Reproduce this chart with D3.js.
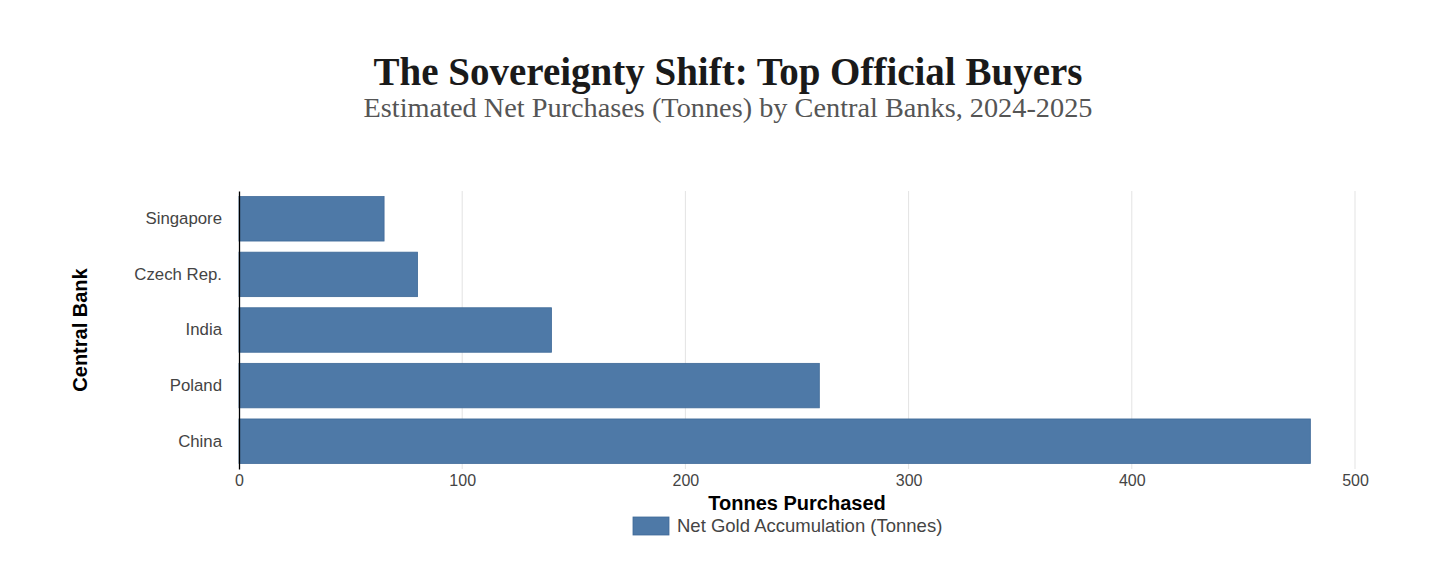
<!DOCTYPE html>
<html>
<head>
<meta charset="utf-8">
<script src="https://cdn.jsdelivr.net/npm/d3@7"></script>
<style>
  body { margin: 0; background: #fff; }
  svg { display: block; }
</style>
</head>
<body>
<svg id="chart" width="1456" height="569"></svg>
<script>
// data
var banks = ['Singapore', 'Czech Rep.', 'India', 'Poland', 'China'];
var tonnes = [65, 80, 140, 260, 480];
var xTicks = [0, 100, 200, 300, 400, 500];

var svg = d3.select('#chart');
var margin = { left: 239, right: 101, top: 191, bottom: 100 };
var W = 1456, H = 569;

var x = d3.scaleLinear().domain([0, 500]).range([margin.left, W - margin.right]);
var y = d3.scaleBand().domain(banks).range([margin.top, H - margin.bottom]).paddingInner(0.2).paddingOuter(0.1);

// title
svg.append('text').attr('x', 728).attr('y', 85).attr('text-anchor', 'middle')
   .style('font-family', 'Liberation Serif, serif').style('font-weight', 'bold')
   .style('font-size', '39px').style('fill', '#1a1a1a')
   .text('The Sovereignty Shift: Top Official Buyers');
svg.append('text').attr('x', 728).attr('y', 117).attr('text-anchor', 'middle')
   .style('font-family', 'Liberation Serif, serif')
   .style('font-size', '28.3px').style('fill', '#555')
   .text('Estimated Net Purchases (Tonnes) by Central Banks, 2024-2025');

// grid
svg.append('g').selectAll('line').data(xTicks.slice(1)).enter().append('line')
   .attr('x1', function(d) { return x(d); }).attr('x2', function(d) { return x(d); })
   .attr('y1', margin.top).attr('y2', H - margin.bottom)
   .style('stroke', '#e3e3e3').style('stroke-width', 1);

// bars
svg.append('g').selectAll('rect').data(banks).enter().append('rect')
   .attr('x', x(0))
   .attr('y', function(d) { return y(d); })
   .attr('width', function(d, i) { return x(tonnes[i]) - x(0); })
   .attr('height', y.bandwidth())
   .style('fill', '#4e79a7').style('stroke', '#3f6a98').style('stroke-width', 0.8);

// x axis
var xAxis = svg.append('g').attr('transform', 'translate(0,' + (H - margin.bottom) + ')')
   .call(d3.axisBottom(x).tickValues(xTicks).tickSize(0).tickPadding(6));
xAxis.select('.domain').remove();
xAxis.selectAll('text').style('font-family', 'Liberation Sans, Arial, sans-serif')
   .style('font-size', '16px').style('fill', '#444');

// y axis
var yAxis = svg.append('g').attr('transform', 'translate(' + margin.left + ',0)')
   .call(d3.axisLeft(y).tickSize(0).tickPadding(17));
yAxis.select('.domain').style('stroke', '#000').style('stroke-width', 1.3);
yAxis.selectAll('text').style('font-family', 'Liberation Sans, Arial, sans-serif')
   .style('font-size', '16.8px').style('fill', '#444');

// axis titles
svg.append('text').attr('transform', 'translate(87,330) rotate(-90)').attr('text-anchor', 'middle')
   .style('font-family', 'Liberation Sans, Arial, sans-serif').style('font-weight', 'bold')
   .style('font-size', '20px').style('fill', '#000').text('Central Bank');
svg.append('text').attr('x', 797).attr('y', 510).attr('text-anchor', 'middle')
   .style('font-family', 'Liberation Sans, Arial, sans-serif').style('font-weight', 'bold')
   .style('font-size', '20px').style('fill', '#000').text('Tonnes Purchased');

// legend
var legend = svg.append('g').attr('transform', 'translate(633,517)');
legend.append('rect').attr('width', 36).attr('height', 18)
   .style('fill', '#4e79a7').style('stroke', '#3f6a98').style('stroke-width', 0.8);
legend.append('text').attr('x', 44).attr('y', 15)
   .style('font-family', 'Liberation Sans, Arial, sans-serif')
   .style('font-size', '18.5px').style('fill', '#444').text('Net Gold Accumulation (Tonnes)');
</script>
</body>
</html>
